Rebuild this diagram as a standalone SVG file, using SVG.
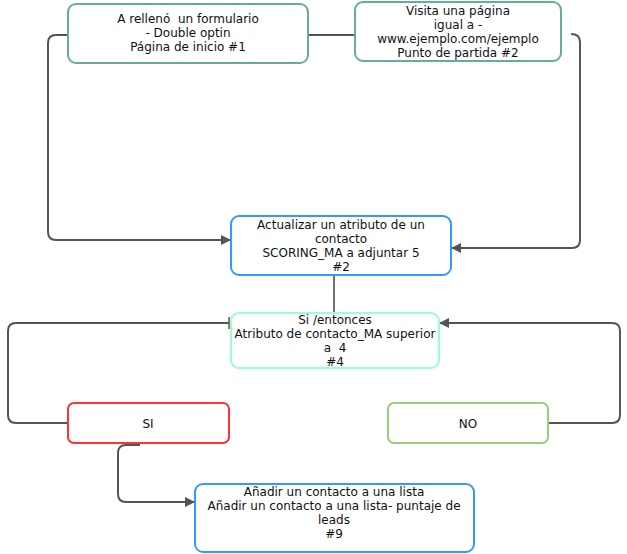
<svg xmlns="http://www.w3.org/2000/svg" width="627" height="554" viewBox="0 0 627 554">
<style>
.n{fill:#fff;stroke-width:2}
text{font-family:"DejaVu Sans",Verdana,sans-serif;font-size:12px;fill:#111;text-anchor:middle;white-space:pre}
.c{fill:none;stroke:#555;stroke-width:2}
</style>
<defs>
<marker id="a" markerWidth="10" markerHeight="10" refX="9" refY="5" orient="auto" markerUnits="userSpaceOnUse"><path d="M0,0L10,5L0,10z" fill="#555"/></marker>
<marker id="t" markerWidth="4" markerHeight="12" refX="2" refY="6" orient="auto" markerUnits="userSpaceOnUse"><path d="M2,0V12" stroke="#555" stroke-width="1.5"/></marker>
</defs>
<rect width="627" height="554" fill="#fff"/>
<g id="connectors">
<path class="c" d="M308,35H355"/>
<path class="c" d="M68,35H56Q48,35 48,43V232Q48,240 56,240H230" marker-end="url(#a)"/>
<path class="c" d="M571,34Q580,34 580,42V240Q580,248 572,248H452" marker-end="url(#a)"/>
<path d="M334,275V313" stroke="#111" stroke-width="1.2"/>
<path class="c" d="M68,423H16Q8,423 8,415V331Q8,323 16,323H229" marker-end="url(#t)"/>
<path class="c" d="M548,423H612Q620,423 620,415V331Q620,323 612,323H440" marker-end="url(#a)"/>
<path class="c" d="M140,445H126Q118,445 118,453V494Q118,502 126,502H194" marker-end="url(#a)"/>
</g>
<g id="n1"><rect class="n" x="68" y="4" width="240" height="59" rx="8" stroke="#67ab9f"/>
<text x="188" y="23" xml:space="preserve">A rellenó  un formulario</text><text x="188" y="37">- Double optin</text><text x="188" y="51">Página de inicio #1</text></g>
<g id="n2"><rect class="n" x="355" y="2" width="206" height="59" rx="8" stroke="#67ab9f"/>
<text x="458" y="15">Visita una página</text><text x="458" y="29">igual a -</text><text x="458" y="43">www.ejemplo.com/ejemplo</text><text x="458" y="57">Punto de partida #2</text></g>
<g id="n3"><rect class="n" x="231" y="216" width="220" height="59" rx="8" stroke="#3399ff"/>
<text x="341" y="229">Actualizar un atributo de un</text><text x="341" y="243">contacto</text><text x="341" y="257">SCORING_MA a adjuntar 5</text><text x="341" y="271">#2</text></g>
<g id="n4"><rect class="n" x="231" y="313" width="208" height="55" rx="8" stroke="#99ffcc"/>
<text x="335" y="324">Si /entonces</text><text x="335" y="338">Atributo de contacto_MA superior</text><text x="335" y="352" xml:space="preserve">a  4</text><text x="335" y="366">#4</text></g>
<g id="si"><rect class="n" x="68" y="403" width="161" height="40" rx="6" stroke="#ff3333"/>
<text x="148" y="428">SI</text></g>
<g id="no"><rect class="n" x="388" y="403" width="160" height="40" rx="6" stroke="#97d077"/>
<text x="468" y="428">NO</text></g>
<g id="n9"><rect class="n" x="195" y="484" width="279" height="68" rx="8" stroke="#3399ff"/>
<text x="334" y="496">Añadir un contacto a una lista</text><text x="334" y="510">Añadir un contacto a una lista- puntaje de</text><text x="334" y="524">leads</text><text x="334" y="538">#9</text></g>
</svg>
